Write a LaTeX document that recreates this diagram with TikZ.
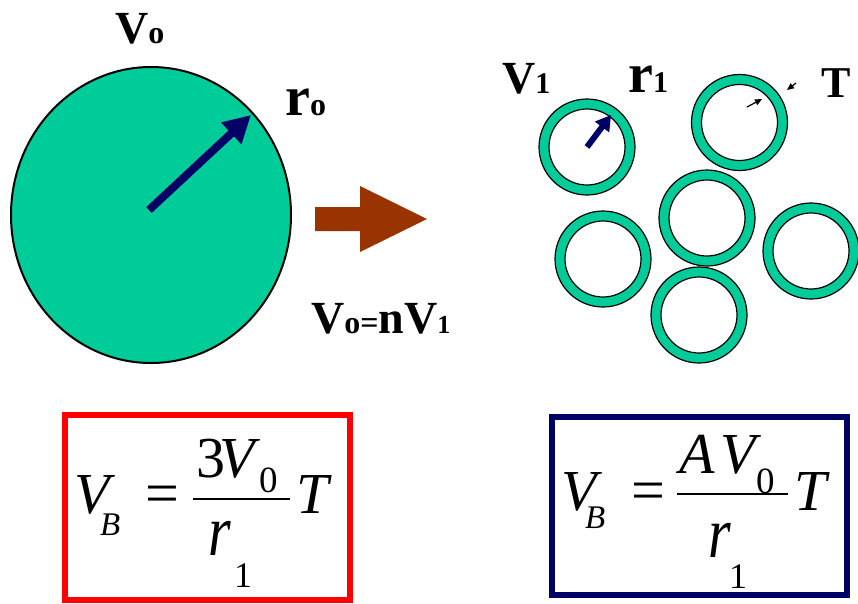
\documentclass[tikz,border=0pt]{standalone}
\usepackage{fontspec}
\setmainfont{Liberation Serif}
\usetikzlibrary{arrows.meta,shapes.geometric}
\newcommand{\fsz}[1]{\fontsize{#1}{#1}\selectfont}
\definecolor{tgreen}{RGB}{0,204,153}
\definecolor{tnavy}{RGB}{0,0,102}
\definecolor{tbrown}{RGB}{153,51,0}
\begin{document}
\begin{tikzpicture}[x=1pt,y=-1pt,
  lbl/.style={inner sep=0pt, anchor=base west, font=\bfseries},
  eqi/.style={inner sep=0pt, anchor=base west, font=\itshape},
  equ/.style={inner sep=0pt, anchor=base west},
  ringout/.style={circle, draw=black, line width=1.2pt, fill=tgreen, minimum size=96pt, inner sep=0pt},
  ringin/.style={circle, draw=black, line width=1.2pt, fill=white, minimum size=76pt, inner sep=0pt},
  thinarrow/.style={line width=1.2pt, -{Triangle[length=7pt,width=6pt]}},
  fracbar/.style={line width=2.5pt}
]
\useasboundingbox (0,0) rectangle (858,603);

% big sphere
\node[ellipse, draw=black, line width=2pt, fill=tgreen, minimum width=280pt, minimum height=296pt, inner sep=0pt] (big) at (151,215) {};
\coordinate (bigc) at (149,210);
\coordinate (bigt) at (251,115);
\draw[tnavy, line width=8pt, -{Triangle[length=27pt,width=28pt]}] (bigc) -- (bigt);

% labels left
\node[lbl] (v0) at (115,43) {\fsz{46}V\fsz{32}o};
\node[lbl] (r0) at (285,115) {\fsz{56}r\fsz{32}o};
\node[lbl] (eqn) at (311,333) {\fsz{46}V\fsz{32}o=\fsz{46}nV\fsz{26}1};

% brown arrow
\draw[fill=tbrown, draw=none] (315,207) -- (360,207) -- (360,186) -- (427,219) -- (360,252) -- (360,231) -- (315,231) -- cycle;

% rings
\foreach \n/\x/\y in {a/587/147, b/739.5/122.5, c/707/218, d/603/259, e/699/315, f/811/251} {
  \node[ringout] (ro\n) at (\x,\y) {};
  \node[ringin] (ri\n) at (\x,\y) {};
}

% small arrow in ring a
\coordinate (sat) at (611,115);
\draw[tnavy, line width=6pt, -{Triangle[length=15pt,width=17pt]}] (roa.center) -- (sat);

% T arrows
\coordinate (ta1) at (747,107);
\coordinate (ta2) at (762,99);
\coordinate (tb1) at (796,83);
\coordinate (tb2) at (787,90);
\draw[thinarrow] (ta1) -- (ta2);
\draw[thinarrow] (tb1) -- (tb2);

\node[lbl] (v1) at (502,93) {\fsz{46}V\fsz{30}1};
\node[lbl] (r1) at (628,92) {\fsz{56}r\fsz{30}1};
\node[lbl] (tt) at (821,97) {\fsz{44}T};

% boxes
\node[draw=red, line width=6pt, minimum width=285pt, minimum height=185pt, inner sep=0pt] (box1) at (207.5,507.5) {};
\node[draw=tnavy, line width=6pt, minimum width=295pt, minimum height=178pt, inner sep=0pt] (box2) at (699.5,506) {};

% equation 1
\node[eqi] (e1v) at (74,513) {\fsz{58}V};
\node[eqi] (e1b) at (100,535) {\fsz{33}B};
\node[equ, anchor=base] (e1eq) at (162,513) {\fsz{60}=};
\coordinate (e1b1) at (193,499);
\coordinate (e1b2) at (290,499);
\draw[fracbar] (e1b1) -- (e1b2);
\node[equ] (e13) at (196,477) {\fsz{58}3};
\node[eqi] (e1v0) at (219,477) {\fsz{58}V};
\node[equ] (e10) at (259,492) {\fsz{37}0};
\node[eqi] (e1t) at (296,513) {\fsz{58}T};
\node[eqi] (e1r) at (208,555) {\scalebox{1}[1.25]{\fsz{58}r}};
\node[equ] (e11) at (234,587) {\fsz{36}1};

% equation 2
\node[eqi] (e2v) at (561,510) {\fsz{58}V};
\node[eqi] (e2b) at (585,528) {\fsz{33}B};
\node[equ, anchor=base] (e2eq) at (648,510) {\fsz{60}=};
\coordinate (e2b1) at (677,494);
\coordinate (e2b2) at (788,494);
\draw[fracbar] (e2b1) -- (e2b2);
\node[eqi] (e2a) at (679,473) {\fsz{58}A};
\node[eqi] (e2v0) at (720,473) {\fsz{58}V};
\node[equ] (e20) at (756,493) {\fsz{37}0};
\node[eqi] (e2t) at (794,510) {\fsz{58}T};
\node[eqi] (e2r) at (708,557) {\scalebox{1}[1.25]{\fsz{58}r}};
\node[equ] (e21) at (729,588) {\fsz{36}1};
\end{tikzpicture}
\end{document}
